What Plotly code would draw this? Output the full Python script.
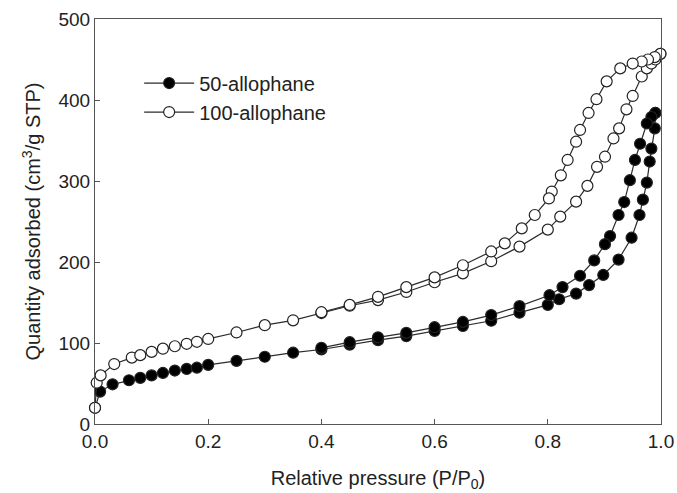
import plotly.graph_objects as go

# 50-allophane adsorption branch
p50_ads = [0.0, 0.009, 0.031, 0.06, 0.08, 0.10, 0.12, 0.141, 0.162, 0.18, 0.20, 0.25, 0.30, 0.35, 0.40,
           0.45, 0.50, 0.55, 0.60, 0.65, 0.70, 0.75, 0.80, 0.82, 0.85, 0.873, 0.898, 0.925, 0.948,
           0.962, 0.968, 0.975, 0.980, 0.983, 0.989, 0.990]
q50_ads = [20, 40, 49, 54, 57, 60, 63, 66, 68, 69.5, 73, 78, 83, 88, 92,
           98, 103.5, 108.5, 115, 121, 127.5, 137.5, 147, 154, 161, 171.5, 184, 203, 230,
           258, 277, 298, 324, 340, 365, 384]
# 50-allophane desorption branch
p50_des = [0.990, 0.983, 0.975, 0.963, 0.954, 0.945, 0.935, 0.925, 0.910, 0.901, 0.882, 0.857,
           0.826, 0.803, 0.75, 0.70, 0.65, 0.60, 0.55, 0.50, 0.45, 0.40]
q50_des = [384, 379, 371, 346, 326, 301, 274, 258, 232, 222, 202, 183,
           169, 159, 145.5, 134.5, 126, 119.5, 112.5, 107, 101, 94]

# 100-allophane adsorption branch
p100_ads = [0.0, 0.003, 0.01, 0.034, 0.065, 0.08, 0.10, 0.12, 0.141, 0.162, 0.18, 0.20, 0.25, 0.30,
            0.35, 0.40, 0.45, 0.50, 0.55, 0.60, 0.65, 0.70, 0.75, 0.80, 0.822, 0.85, 0.87, 0.887,
            0.901, 0.916, 0.926, 0.939, 0.950, 0.966, 0.975, 0.983, 0.990, 0.999]
q100_ads = [20, 51, 60, 74, 82, 85, 89, 93, 96, 99, 101.5, 105, 113, 122,
            128, 137, 146, 153, 163, 175, 186, 201, 219, 240, 256, 274.5, 294, 317.5,
            330, 352.5, 365, 388.5, 405, 429, 439, 445, 450, 457]
# 100-allophane desorption branch
p100_des = [0.999, 0.989, 0.977, 0.966, 0.950, 0.928, 0.904, 0.886, 0.872, 0.857, 0.850, 0.835,
            0.823, 0.807, 0.802, 0.777, 0.754, 0.724, 0.70, 0.65, 0.60, 0.55, 0.50, 0.45, 0.40]
q100_des = [457, 453, 450, 447.5, 445, 439, 423, 401, 384, 363, 348.5, 326,
            307, 287, 278.5, 258, 241.5, 223, 213, 196, 181, 169, 157, 147, 138]

x_ticks = [0.0, 0.2, 0.4, 0.6, 0.8, 1.0]
y_ticks = [0, 100, 200, 300, 400, 500]

LINE = "#2b2b2b"
FONT = "Liberation Sans, Arial, sans-serif"

fig = go.Figure()

def add(px, qy, filled, name, show):
    fig.add_trace(go.Scatter(
        x=px, y=qy, mode="lines+markers", name=name, showlegend=show,
        legendgroup=name, cliponaxis=False,
        line=dict(color=LINE, width=1.2),
        marker=dict(size=11, color="black" if filled else "white",
                    line=dict(color="#222222", width=1.2)),
    ))

add(p50_ads, q50_ads, True, "50-allophane", True)
add(p50_des, q50_des, True, "50-allophane", False)
add(p100_ads, q100_ads, False, "100-allophane", True)
add(p100_des, q100_des, False, "100-allophane", False)

axis_common = dict(
    showgrid=False, zeroline=False, showline=True, linecolor="#555555", linewidth=1,
    mirror=True, ticks="inside", ticklen=5, tickcolor="#555555", automargin=False,
    tickfont=dict(family=FONT, size=19, color="#222222"),
)

fig.update_layout(
    width=677, height=493,
    margin=dict(l=95, r=16, t=19, b=69),
    paper_bgcolor="white", plot_bgcolor="white",
    font=dict(family=FONT, color="#222222"),
    xaxis=dict(range=[0, 1], tickvals=x_ticks, tickformat=".1f",
               title=dict(text="Relative pressure (P/P<sub>0</sub>)",
                          font=dict(family=FONT, size=20), standoff=20),
               **axis_common),
    yaxis=dict(range=[0, 500], tickvals=y_ticks,
               title=dict(text="Quantity adsorbed (cm<sup>3</sup>/g STP)",
                          font=dict(family=FONT, size=20), standoff=12),
               **axis_common),
    legend=dict(x=0.078, y=0.89, xanchor="left", yanchor="top",
                bgcolor="rgba(0,0,0,0)", font=dict(family=FONT, size=20),
                itemwidth=50, tracegroupgap=0),
)

fig.write_html("out.html", config={"displayModeBar": False},
               post_script="document.body.style.margin='0';")
